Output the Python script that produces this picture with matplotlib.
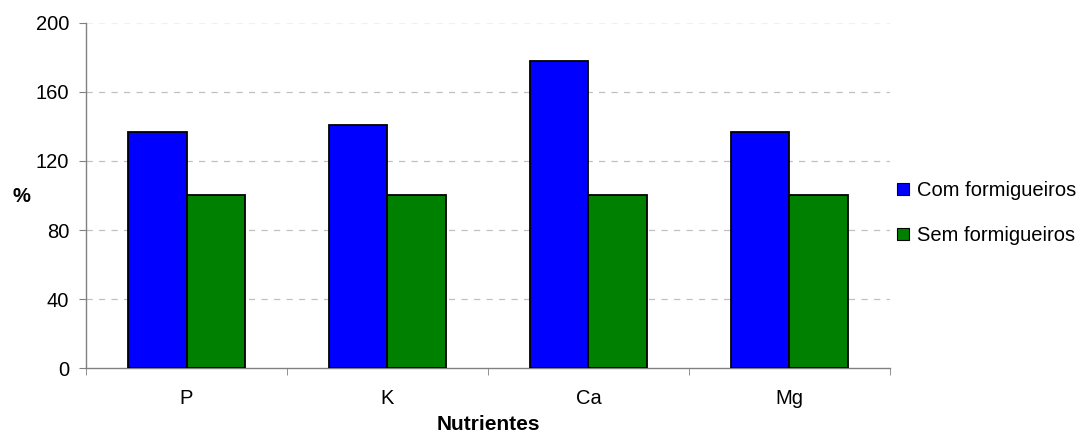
import numpy as np
import matplotlib.pyplot as plt
from matplotlib.lines import Line2D

plt.rcParams['font.family'] = ['Liberation Sans', 'DejaVu Sans']

categories = ["P", "K", "Ca", "Mg"]
com_formigueiros = [137, 141, 178, 137]
sem_formigueiros = [100, 100, 100, 100]
series_labels = ["Com formigueiros", "Sem formigueiros"]
yticks = [0, 40, 80, 120, 160, 200]

fig = plt.figure(figsize=(10.86, 4.33), dpi=100)
ax = fig.add_axes([0.0792, 0.150, 0.7403, 0.797])

x = np.arange(len(categories))
w = 0.29
ax.bar(x - w / 2, com_formigueiros, w, color="#0000ff", edgecolor="black", linewidth=1.3, zorder=3)
ax.bar(x + w / 2, sem_formigueiros, w, color="#008000", edgecolor="black", linewidth=1.3, zorder=3)

ax.set_xlim(-0.5, len(categories) - 0.5)
ax.set_ylim(0, 200)
ax.set_yticks(yticks)
ax.set_xticks(x)
ax.set_xticklabels(categories)
ax.set_xticks(np.arange(len(categories) + 1) - 0.5, minor=True)
ax.tick_params(axis="x", which="major", length=0, labelsize=14.5, pad=15)
ax.tick_params(axis="x", which="minor", length=5, direction="out", color="#808080")
ax.tick_params(axis="y", length=5, labelsize=14.5, color="#808080", pad=7)

for s in ["top", "right"]:
    ax.spines[s].set_visible(False)
for s in ["left", "bottom"]:
    ax.spines[s].set_color("#808080")
    ax.spines[s].set_linewidth(1.0)

for v in yticks[1:-1]:
    ax.axhline(v, color="#c0c0c0", linestyle=(0, (5, 5)), linewidth=0.9, zorder=1)
ax.axhline(yticks[-1], color="#f0f0f0", linestyle=(0, (5, 5)), linewidth=0.9, zorder=1)

ax.set_xlabel("Nutrientes", fontsize=15, fontweight="bold", labelpad=5)
fig.text(21 / 1086, 1 - 196 / 433, "%", fontsize=14.5, fontweight="bold", ha="center", va="center")

handles = [Line2D([], [], marker="s", linestyle="none", markersize=9,
                  markerfacecolor=c, markeredgecolor="black", markeredgewidth=0.8)
           for c in ["#0000ff", "#008000"]]
fig.legend(handles, series_labels, loc="center left", bbox_to_anchor=(0.818, 0.508),
           frameon=False, fontsize=14.5, handlelength=0.7, handletextpad=0.3,
           labelspacing=1.25, borderaxespad=0)

fig.savefig("out.png", dpi=100)
